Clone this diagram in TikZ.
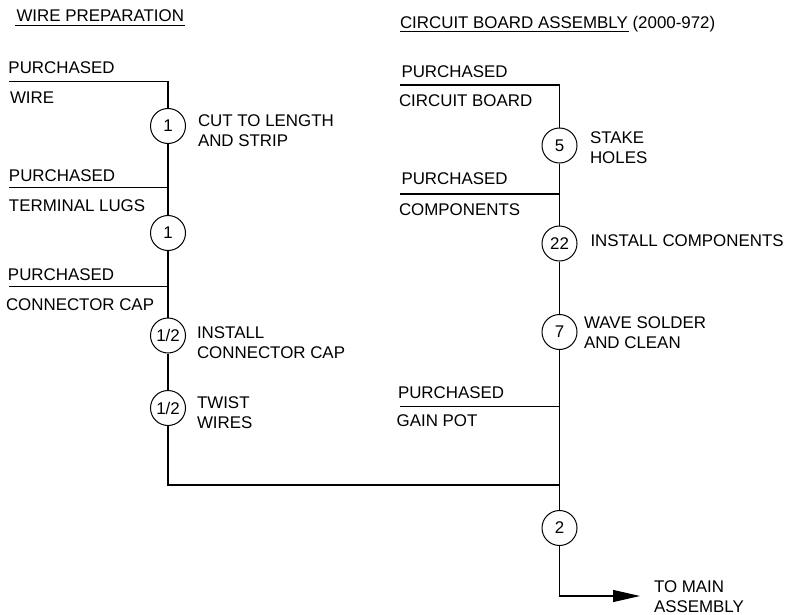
\documentclass[tikz,border=0pt]{standalone}
\usepackage{fontspec}
\setmainfont{Liberation Sans}
\usetikzlibrary{arrows.meta}
\begin{document}
\begin{tikzpicture}[x=1pt,y=-1pt,
  lbl/.style={anchor=base west, inner sep=0pt, outer sep=0pt, font=\fontsize{16.9}{20}\selectfont, align=left},
  op/.style={circle, draw, line width=1pt, minimum size=35pt, inner sep=0pt, font=\fontsize{16.9}{20}\selectfont},
  flow/.style={line width=1.1pt},
  uline/.style={line width=0.9pt}]
\useasboundingbox (0,0) rectangle (789,615);

% ---------- headers ----------
\node[lbl] (h1) at (16.5,21.5) {WIRE PREPARATION};
\draw[uline] ([xshift=-1.5pt,yshift=-3.5pt]h1.base west) -- ([xshift=1pt,yshift=-3.5pt]h1.base east);
\node[lbl] (h2) at (400,28.3) {CIRCUIT BOARD ASSEMBLY};
\draw[uline] ([xshift=-0.5pt,yshift=-3.3pt]h2.base west) -- ([xshift=1pt,yshift=-3.3pt]h2.base east);
\node[lbl] (h3) at ([xshift=4.7pt]h2.base east) {(2000-972)};

% ---------- wire preparation ----------
\coordinate (wA) at (9,81.5);   \coordinate (wB) at (168,81.5);
\node[op] (o1) at (168,126) {1};
\coordinate (tA) at (9,187.5);  \coordinate (tB) at (168,187.5);
\node[op] (o2) at (168,233) {1};
\coordinate (cA) at (9,286.5);  \coordinate (cB) at (168,286.5);
\node[op] (o3) at (168,335.5) {1/2};
\node[op] (o4) at (168,408) {1/2};
\coordinate (lc) at (168,485);

% ---------- circuit board assembly ----------
\coordinate (bA) at (400,85);    \coordinate (bB) at (559.5,85);
\node[op] (o5) at (559.5,145.5) {5};
\coordinate (pA) at (400,194);   \coordinate (pB) at (559.5,194);
\node[op] (o6) at (559.5,243.5) {22};
\node[op] (o7) at (559.5,332) {7};
\coordinate (gA) at (400,406.7); \coordinate (gB) at (559.5,406.7);
\coordinate (rc) at (559.5,485);
\node[op] (o8) at (559.5,528) {2};
\coordinate (ac) at (559.5,596);
\coordinate (at) at (640,596);

% ---------- connectors ----------
\draw[flow] (wA) -- (wB) -- (o1);
\draw[flow] (o1) -- (o2);
\draw[flow] (tA) -- (tB);
\draw[flow] (o2) -- (o3);
\draw[flow] (cA) -- (cB);
\draw[flow] (o3) -- (o4);
\draw[flow] (o4) -- (lc) -- (rc);
\draw[flow] (bA) -- (bB) -- (o5);
\draw[flow] (o5) -- (o6);
\draw[flow] (pA) -- (pB);
\draw[flow] (o6) -- (o7);
\draw[flow] (o7) -- (o8);
\draw[flow] (gA) -- (gB);
\draw[flow,-{Triangle[length=27pt,width=12pt]}] (o8) -- (ac) -- (at);

% ---------- labels (base = baseline of last line) ----------
\node[lbl] (l1) at (8.5,73.3) {PURCHASED};
\node[lbl] (l2) at (10,103) {WIRE};
\node[lbl] (l3) at (198,146.5) {CUT TO LENGTH\\AND STRIP};
\node[lbl] (l4) at (9,181.5) {PURCHASED};
\node[lbl] (l5) at (9,211.5) {TERMINAL LUGS};
\node[lbl] (l6) at (8,280.5) {PURCHASED};
\node[lbl] (l7) at (6,310) {CONNECTOR CAP};
\node[lbl] (l8) at (197,358) {INSTALL\\CONNECTOR CAP};
\node[lbl] (l9) at (197,428) {TWIST\\WIRES};

\node[lbl] (r1) at (401.5,77.3) {PURCHASED};
\node[lbl] (r2) at (399,106.5) {CIRCUIT BOARD};
\node[lbl] (r3) at (590,163) {STAKE\\HOLES};
\node[lbl] (r4) at (401.5,184) {PURCHASED};
\node[lbl] (r5) at (399,215) {COMPONENTS};
\node[lbl] (r6) at (590.5,246) {INSTALL COMPONENTS};
\node[lbl] (r7) at (584,348.3) {WAVE SOLDER\\AND CLEAN};
\node[lbl] (r8) at (398,398) {PURCHASED};
\node[lbl] (r9) at (396.7,426.5) {GAIN POT};
\node[lbl] (r10) at (654,612.7) {TO MAIN\\ASSEMBLY};
\end{tikzpicture}
\end{document}
